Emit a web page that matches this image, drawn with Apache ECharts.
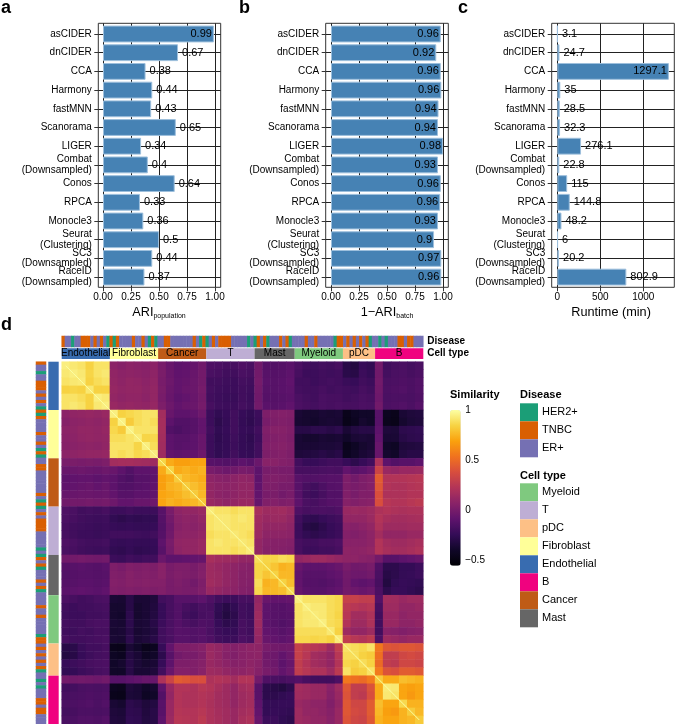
<!DOCTYPE html>
<html><head><meta charset="utf-8">
<style>html,body{margin:0;padding:0;background:#fff}#c{width:675px;height:724px}</style>
<script src="https://cdn.jsdelivr.net/npm/echarts@6/dist/echarts.min.js"></script>
</head><body><div id="c"></div>
<script>
// ---------- data ----------
const methods = ['asCIDER','dnCIDER','CCA','Harmony','fastMNN','Scanorama','LIGER','Combat\n(Downsampled)','Conos','RPCA','Monocle3','Seurat\n(Clustering)','SC3\n(Downsampled)','RaceID\n(Downsampled)'];
const ariPopulation = [0.99,0.67,0.38,0.44,0.43,0.65,0.34,0.4,0.64,0.33,0.36,0.5,0.44,0.37];
const ariBatchPrinted = [0.96,0.92,0.96,0.96,0.94,0.94,0.98,0.93,0.96,0.96,0.93,0.9,0.97,0.96];
const ariBatchBars = [0.98,0.94,0.98,0.985,0.96,0.955,1.0,0.955,0.98,0.975,0.955,0.92,0.985,0.985];
const runtimeMin = [3.1,24.7,1297.1,35,28.5,32.3,276.1,22.8,115,144.8,48.2,6,20.2,802.9];

const cellTypes = ['Endothelial','Fibroblast','Cancer','T','Mast','Myeloid','pDC','B'];
const cellTypeSpan = [6,6,6,6,5,6,4,6];
const cellTypeColors = {Myeloid:'#7FC97F',T:'#BEAED4',pDC:'#FDC086',Fibroblast:'#FFFF99',Endothelial:'#386CB0',B:'#F0027F',Cancer:'#BF5B17',Mast:'#666666'};
const cellTypeLegend = ['Myeloid','T','pDC','Fibroblast','Endothelial','B','Cancer','Mast'];
const diseaseNames = ['HER2+','TNBC','ER+'];
const diseaseColors = ['#1B9E77','#D95F02','#7570B3'];
// 0 HER2+, 1 TNBC, 2 ER+ (same order on the top and left strips)
const diseaseStrip = [1,2,2,0,2,2,1,1,1,2,1,2,1,2,0,1,0,1,2,2,2,2,1,2,2,1,2,0,1,0,2,2,1,1,2,2,2,2,2,2,2,1,2,0,1,0,2,1,2,1,1,1,1,2,2,2,2,2,0,2,0,1,2,1,0,2,2,2,1,2,1,0,2,2,2,2,1,2,2,1,2,2,2,2,2,0,1,1,2,1,2,1,2,1,2,1,0,2,2,0,2,0,2,2,2,1,1,2,1,1,2,2,2];

// similarity, upper triangle, read block by block from the picture
const simE0=[.94,.92,.9,.84,.9,.9,.07,.05,.07,.06,.05,.07,0,-.06,-.1,-.09,-.07,-.03,-.15,-.16,-.18,-.18,-.15,-.17,-.03,-.13,-.14,-.13,-.11,-.16,-.2,-.21,-.19,-.2,-.18,-.3,-.32,-.24,-.26,-.02,-.2,-.18,-.17,-.19,-.17];
const simE1=[.94,.92,.85,.9,.92,.09,.07,.08,.07,.06,.08,.01,-.05,-.09,-.08,-.06,-.02,-.17,-.18,-.2,-.2,-.17,-.18,-.02,-.12,-.13,-.12,-.1,-.18,-.22,-.22,-.2,-.21,-.2,-.29,-.3,-.22,-.25,-.03,-.19,-.17,-.16,-.18,-.16];
const simE2=[.93,.84,.88,.9,.1,.08,.1,.09,.07,.09,0,-.04,-.08,-.07,-.05,-.02,-.2,-.2,-.21,-.22,-.19,-.2,-.01,-.11,-.12,-.11,-.09,-.2,-.2,-.22,-.2,-.19,-.2,-.23,-.24,-.2,-.22,-.02,-.17,-.16,-.15,-.16,-.14];
const simE3=[.92,.84,.84,.11,.09,.1,.1,.08,.1,.01,-.05,-.08,-.06,-.05,-.01,-.19,-.21,-.22,-.22,-.2,-.21,-.02,-.12,-.12,-.11,-.1,-.19,-.2,-.2,-.18,-.2,-.19,-.2,-.21,-.18,-.2,-.03,-.16,-.15,-.14,-.16,-.14];
const simE4=[.94,.92,.1,.08,.09,.09,.07,.1,0,-.06,-.1,-.08,-.06,-.02,-.2,-.22,-.23,-.23,-.2,-.22,-.03,-.13,-.13,-.12,-.11,-.17,-.19,-.2,-.17,-.18,-.18,-.2,-.19,-.17,-.18,-.04,-.17,-.16,-.16,-.17,-.15];
const simE5=[.94,.12,.1,.11,.1,.09,.11,.02,-.04,-.08,-.06,-.05,-.01,-.18,-.21,-.22,-.22,-.19,-.21,-.02,-.11,-.12,-.11,-.09,-.16,-.18,-.19,-.17,-.18,-.17,-.18,-.18,-.16,-.17,-.02,-.16,-.15,-.14,-.16,-.13];
const simF0=[.94,.84,.86,.88,.9,.9,.16,-.06,-.1,-.1,-.08,-.04,-.22,-.26,-.24,-.2,-.24,-.26,-.22,.02,.03,.04,.03,-.36,-.38,-.38,-.36,-.37,-.36,-.46,-.42,-.4,-.4,-.12,-.44,-.46,-.36,-.34,-.33];
const simF1=[.95,.82,.88,.9,.88,.17,-.1,-.14,-.14,-.12,-.08,-.22,-.28,-.25,-.2,-.25,-.27,-.23,0,.02,.03,.02,-.37,-.38,-.39,-.37,-.36,-.37,-.47,-.44,-.38,-.4,-.12,-.45,-.47,-.38,-.35,-.34];
const simF2=[.95,.9,.9,.9,.17,-.14,-.16,-.14,-.12,-.08,-.2,-.26,-.24,-.2,-.24,-.25,-.2,.03,.05,.05,.03,-.3,-.3,-.28,-.28,-.3,-.28,-.36,-.32,-.3,-.3,-.1,-.34,-.35,-.28,-.27,-.26];
const simF3=[.93,.85,.86,.16,-.1,-.12,-.12,-.1,-.06,-.22,-.27,-.25,-.21,-.25,-.27,-.22,.02,.03,.04,.02,-.36,-.38,-.38,-.36,-.37,-.36,-.4,-.36,-.35,-.36,-.08,-.36,-.36,-.3,-.28,-.27];
const simF4=[.94,.88,.15,-.1,-.12,-.11,-.1,-.06,-.22,-.26,-.25,-.22,-.25,-.26,-.2,.03,.04,.05,.03,-.36,-.36,-.36,-.35,-.35,-.34,-.46,-.42,-.38,-.36,-.06,-.4,-.42,-.34,-.33,-.32];
const simF5=[.94,.14,-.08,-.1,-.09,-.08,-.04,-.22,-.26,-.24,-.2,-.24,-.25,-.2,.02,.03,.04,.02,-.34,-.33,-.32,-.3,-.32,-.3,-.44,-.4,-.36,-.34,-.06,-.38,-.4,-.32,-.3,-.3];
const simC0=[.85,.72,.68,.68,.7,.7,-.12,-.13,-.14,-.13,-.1,-.12,-.05,.06,.06,.04,.03,-.2,-.24,-.24,-.22,-.2,-.2,-.24,-.28,-.24,-.2,.2,-.1,-.14,-.12,-.12,-.1];
const simC1=[.84,.72,.74,.72,.74,0,-.02,-.04,-.03,0,-.01,-.1,0,.01,0,0,-.18,-.18,-.18,-.17,-.16,-.17,-.08,-.12,-.1,-.06,.32,.12,.1,.12,.12,.13];
const simC2=[.82,.76,.74,.72,.08,.06,.05,.07,.09,.08,-.1,.02,.03,.02,.01,-.12,-.14,-.14,-.13,-.12,-.12,.02,-.02,.02,.04,.44,.22,.22,.22,.23,.24];
const simC3=[.82,.78,.74,.1,.08,.07,.08,.1,.1,-.09,.02,.02,0,0,-.12,-.18,-.2,-.16,-.13,-.12,.02,0,.02,.04,.42,.22,.2,.2,.22,.23];
const simC4=[.82,.76,.1,.07,.06,.08,.1,.1,-.08,0,.01,-.02,0,-.12,-.2,-.22,-.18,-.14,-.14,.03,0,.03,.03,.38,.2,.2,.2,.22,.22];
const simC5=[.8,.12,.1,.08,.1,.12,.12,-.07,.03,.04,.02,.03,-.1,-.17,-.18,-.15,-.13,-.12,.05,.03,.05,.06,.38,.24,.22,.22,.24,.26];
const simT0=[.93,.9,.9,.88,.9,.9,.18,.14,.14,.15,.12,-.15,-.18,-.17,-.16,-.17,-.15,.12,.13,.12,.14,.2,.22,.2,.19,.2,.2];
const simT1=[.92,.92,.9,.92,.9,.15,.12,.13,.13,.1,-.2,-.26,-.27,-.24,-.22,-.2,.1,.1,.1,.13,.22,.18,.16,.16,.17,.18];
const simT2=[.92,.9,.9,.9,.14,.1,.1,.1,.08,-.22,-.3,-.32,-.28,-.24,-.22,.06,.05,.07,.1,.2,.14,.14,.14,.15,.15];
const simT3=[.92,.9,.88,.13,.08,.08,.08,.07,-.22,-.26,-.28,-.26,-.24,-.22,.04,.03,.05,.08,.16,.1,.1,.1,.12,.12];
const simT4=[.92,.9,.1,.06,.05,.05,.04,-.18,-.2,-.2,-.18,-.18,-.16,.06,.06,.06,.08,.22,.16,.14,.14,.16,.18];
const simT5=[.93,.1,.05,.05,.04,.03,-.18,-.22,-.22,-.2,-.2,-.18,.08,.07,.08,.1,.22,.18,.16,.16,.18,.2];
const simM0=[.88,.85,.85,.88,.86,.1,.12,.14,.14,.12,.1,.08,.08,.06,.05,-.02,-.12,-.12,-.1,-.08,-.06];
const simM1=[.84,.8,.74,.76,-.06,-.1,-.1,-.1,-.08,-.06,0,-.03,-.02,0,-.15,-.28,-.28,-.25,-.25,-.22];
const simM2=[.84,.76,.76,-.08,-.12,-.12,-.12,-.1,-.08,-.02,-.04,-.04,-.02,-.17,-.3,-.28,-.25,-.24,-.22];
const simM3=[.84,.78,-.08,-.13,-.13,-.14,-.12,-.1,-.03,-.08,-.1,-.08,-.18,-.32,-.26,-.24,-.25,-.26];
const simM4=[.86,-.07,-.11,-.12,-.12,-.1,-.08,-.02,-.04,-.06,-.04,-.16,-.28,-.24,-.24,-.26,-.28];
const simY0=[.94,.9,.9,.9,.88,.86,.3,.3,.28,.28,-.14,.16,.15,.12,.14,.14];
const simY1=[.94,.92,.92,.88,.86,.26,.24,.22,.24,-.18,.14,.14,.1,.1,.12];
const simY2=[.93,.92,.88,.85,.24,.16,.16,.2,-.2,.12,.12,.08,.1,.1];
const simY3=[.94,.88,.86,.22,.14,.14,.2,-.2,.12,.12,.08,.08,.1];
const simY4=[.92,.84,.14,.1,.1,.14,-.2,.06,.05,.03,.05,.06];
const simY5=[.93,.28,.24,.22,.26,-.16,.14,.12,.1,.12,.12];
const simP0=[.9,.88,.86,.9,.55,.42,.4,.42,.42,.4];
const simP1=[.88,.84,.82,.52,.28,.28,.34,.36,.34];
const simP2=[.88,.84,.5,.28,.26,.34,.34,.32];
const simP3=[.9,.56,.4,.38,.44,.44,.42];
const simB0=[.82,.72,.72,.78,.76,.74];
const simB1=[.93,.92,.7,.68,.7];
const simB2=[.9,.7,.66,.7];
const simB3=[.86,.74,.74];
const simB4=[.82,.76];
const simB5=[.82];
const simUpper=[simE0,simE1,simE2,simE3,simE4,simE5,simF0,simF1,simF2,simF3,simF4,simF5,simC0,simC1,simC2,simC3,simC4,simC5,simT0,simT1,simT2,simT3,simT4,simT5,simM0,simM1,simM2,simM3,simM4,simY0,simY1,simY2,simY3,simY4,simY5,simP0,simP1,simP2,simP3,simB0,simB1,simB2,simB3,simB4,simB5];
const infernoStops=['#000004','#100728','#340C57','#5F136C','#892268','#B23458','#D74D3E','#F0721F','#FAA10D','#F7D343','#FCFFA4'];

// ---------- option building ----------
const FONT='Liberation Sans', INK='#000', LINE='#222';
const grid=[],xAxis=[],yAxis=[],series=[],title=[];
const hiddenVal=(g,extra)=>Object.assign({type:'value',show:false,gridIndex:g,splitLine:{show:false}},extra||{});
function addGrid(l,t,w,h,extra){grid.push(Object.assign({left:l,top:t,width:w,height:h,containLabel:false,show:false},extra||{}));return grid.length-1;}

const subTitle=(a,b)=>`{m|${a}}{s|${b}}`;
const panels=[
 {vals:ariPopulation,printed:ariPopulation,frameL:98.3,frameW:122.4,zero:103,px:112,max:1,xMax:1,step:.125,labels:[0,.25,.5,.75,1],fmt:v=>v.toFixed(2),name:subTitle('ARI','population'),inside:v=>v>.9},
 {vals:ariBatchBars,printed:ariBatchPrinted,frameL:325.7,frameW:122.6,zero:331,px:112,max:1,xMax:1,step:.125,labels:[0,.25,.5,.75,1],fmt:v=>v.toFixed(2),name:subTitle('1\u2212ARI','batch'),inside:()=>true},
 {vals:runtimeMin,printed:runtimeMin,frameL:551.7,frameW:122.6,zero:557.3,px:0.086,max:1300,xMax:1250,step:250,labels:[0,500,1000],fmt:v=>String(v),name:'{m|Runtime (min)}',inside:v=>v>1000}
];
panels.forEach(p=>{
  const T=23.3,H=264;
  // frame
  const gF=addGrid(p.frameL,T,p.frameW,H,{show:true,borderColor:'#333',borderWidth:1,backgroundColor:'transparent'});
  xAxis.push(hiddenVal(gF));yAxis.push(hiddenVal(gF));
  // vertical rules + x axis
  const gV=addGrid(p.zero,T,p.xMax*p.px,H);
  xAxis.push({type:'value',gridIndex:gV,min:0,max:p.xMax,interval:p.step,
    axisLine:{show:false},axisTick:{show:true,length:4,customValues:p.labels,lineStyle:{color:'#333'}},
    axisLabel:{customValues:p.labels,formatter:p.fmt,fontSize:10,color:INK,margin:5,fontFamily:FONT},
    splitLine:{show:true,lineStyle:{color:LINE,width:1}},
    name:p.name,nameLocation:'middle',nameGap:19,
    nameTextStyle:{rich:{m:{fontSize:12.7,color:INK,fontFamily:FONT},s:{fontSize:7,color:INK,fontFamily:FONT,padding:[6,0,0,0]}}}});
  yAxis.push(hiddenVal(gV));
  // horizontal rules + method labels
  const gH=addGrid(p.frameL,34,p.frameW,243);
  xAxis.push(hiddenVal(gH));
  yAxis.push({type:'category',gridIndex:gH,inverse:true,boundaryGap:false,data:methods,
    axisLine:{show:false},axisTick:{show:true,length:4,lineStyle:{color:'#333'}},
    axisLabel:{interval:0,fontSize:10,lineHeight:10.7,color:INK,margin:6.5,fontFamily:FONT,hideOverlap:false},
    splitLine:{show:true,interval:0,lineStyle:{color:LINE,width:1}}});
  // bars
  const gB=addGrid(p.zero,24.65,p.max*p.px,261.8);
  const xi=xAxis.length,yi=yAxis.length;
  xAxis.push(hiddenVal(gB,{min:0,max:p.max}));
  yAxis.push({type:'category',show:false,gridIndex:gB,inverse:true,data:methods});
  series.push({type:'bar',xAxisIndex:xi,yAxisIndex:yi,barWidth:'90%',silent:true,
    itemStyle:{color:'#4682B4',borderColor:'#9dbfdc',borderWidth:1},
    data:p.vals.map((v,i)=>({value:v,label:{show:true,
      position:p.inside(v)?'insideRight':'right',distance:p.inside(v)?2:4,
      formatter:String(p.printed[i]),fontSize:11,color:INK,fontFamily:FONT}}))});
});

// heatmap
const HL=61.7,HT=361.7,HW=361.6,HH=362.3;
const cellNames=[];cellTypes.forEach((c,i)=>{for(let k=0;k<cellTypeSpan[i];k++)cellNames.push(c+k);});
const simData=[];
simUpper.forEach((row,i)=>row.forEach((v,k)=>{const j=i+k;simData.push([j,i,v]);if(j!==i)simData.push([i,j,v]);}));
const gHeat=addGrid(HL,HT,HW,HH);
let xi=xAxis.length,yi=yAxis.length;
xAxis.push({type:'category',show:false,gridIndex:gHeat,data:cellNames});
yAxis.push({type:'category',show:false,gridIndex:gHeat,inverse:true,data:cellNames});
const heatIndex=series.length;
series.push({type:'heatmap',xAxisIndex:xi,yAxisIndex:yi,data:simData,silent:true,progressive:0,animation:false});
series.push({type:'line',xAxisIndex:xi,yAxisIndex:yi,symbol:'none',silent:true,z:5,lineStyle:{color:'#FCFFA4',width:1},data:cellNames.map((c,i)=>[i,i])});

// disease strips
const stripNames=diseaseStrip.map((d,i)=>'s'+i);
const gDT=addGrid(HL,336,HW,11);
xi=xAxis.length;yi=yAxis.length;
xAxis.push({type:'category',show:false,gridIndex:gDT,data:stripNames});
yAxis.push({type:'category',gridIndex:gDT,position:'right',data:['Disease'],axisLine:{show:false},axisTick:{show:false},
  axisLabel:{fontSize:10,fontWeight:'bold',color:INK,margin:4,fontFamily:FONT}});
const stripIdx=[series.length];
series.push({type:'heatmap',xAxisIndex:xi,yAxisIndex:yi,silent:true,data:diseaseStrip.map((d,i)=>[i,0,d])});
const gDL=addGrid(36,HT,10,HH);
xi=xAxis.length;yi=yAxis.length;
xAxis.push({type:'category',show:false,gridIndex:gDL,data:['Disease']});
yAxis.push({type:'category',show:false,gridIndex:gDL,inverse:true,data:stripNames});
stripIdx.push(series.length);
series.push({type:'heatmap',xAxisIndex:xi,yAxisIndex:yi,silent:true,data:diseaseStrip.map((d,i)=>[0,i,d])});

// cell type strips
const gCT=addGrid(HL,348.3,HW,10.7);
const cx=xAxis.length,cy=yAxis.length;
xAxis.push(hiddenVal(gCT,{min:0,max:cellNames.length}));
yAxis.push({type:'category',gridIndex:gCT,position:'right',data:['Cell type'],axisLine:{show:false},axisTick:{show:false},
  axisLabel:{fontSize:10,fontWeight:'bold',color:INK,margin:4,fontFamily:FONT}});
const gCL=addGrid(48.3,HT,10.4,HH);
const lx=xAxis.length,ly=yAxis.length;
xAxis.push({type:'category',show:false,gridIndex:gCL,data:['Cell type']});
yAxis.push(hiddenVal(gCL,{min:0,max:cellNames.length,inverse:true}));
cellTypes.forEach((c,i)=>{
  series.push({type:'bar',name:c,stack:'top',xAxisIndex:cx,yAxisIndex:cy,barWidth:'100%',silent:true,
    itemStyle:{color:cellTypeColors[c]},data:[cellTypeSpan[i]],
    label:{show:true,position:'inside',formatter:c,fontSize:10,color:INK,fontFamily:FONT}});
  series.push({type:'bar',name:c,stack:'left',xAxisIndex:lx,yAxisIndex:ly,barWidth:'100%',silent:true,
    itemStyle:{color:cellTypeColors[c]},data:[cellTypeSpan[i]]});
});

// colour bar tick labels
const gBar=addGrid(460.7,410,1,150);
xAxis.push(hiddenVal(gBar));
yAxis.push({type:'value',gridIndex:gBar,position:'right',min:-.5,max:1,interval:.5,axisLine:{show:false},axisTick:{show:false},splitLine:{show:false},
  axisLabel:{fontSize:10,color:INK,margin:3.5,fontFamily:FONT,formatter:v=>String(v).replace('-','\u2212')}});

// titles
const letter=(t,l,tp)=>title.push({text:t,left:l,top:tp,padding:0,textStyle:{fontSize:18,fontWeight:'bold',color:INK,fontFamily:FONT}});
letter('a',1,-1);letter('b',239,-1);letter('c',458,-1);letter('d',1,316);
const head=(t,l,tp)=>title.push({text:t,left:l,top:tp,padding:0,textStyle:{fontSize:11,fontWeight:'bold',color:INK,fontFamily:FONT}});
head('Similarity',450,389);head('Disease',520,389);head('Cell type',520,470);

const option={
  animation:false,backgroundColor:'#fff',textStyle:{fontFamily:FONT},
  title,grid,xAxis,yAxis,series,
  legend:{data:cellTypeLegend,orient:'vertical',left:520,top:483.3,padding:0,itemGap:0,itemWidth:18,itemHeight:18,icon:'rect',
    selectedMode:false,textStyle:{fontSize:11,color:INK,fontFamily:FONT,padding:[0,0,0,-1]}},
  visualMap:[
   {type:'continuous',seriesIndex:heatIndex,dimension:2,min:-.56,max:1,left:450,top:410,padding:0,itemWidth:10.7,itemHeight:155.7,
    calculable:false,hoverLink:false,inRange:{color:infernoStops},textGap:0},
   {type:'piecewise',seriesIndex:stripIdx,dimension:2,left:520,top:403.3,padding:0,itemWidth:18,itemHeight:18,itemGap:0,itemSymbol:'rect',
    align:'left',inverse:true,selectedMode:false,hoverLink:false,textGap:4,textStyle:{fontSize:11,color:INK,fontFamily:FONT},
    pieces:diseaseNames.map((n,i)=>({value:i,label:n,color:diseaseColors[i]}))}
  ]
};
const chart=echarts.init(document.getElementById('c'),null,{renderer:'canvas',width:675,height:724});
chart.setOption(option);
</script></body></html>
